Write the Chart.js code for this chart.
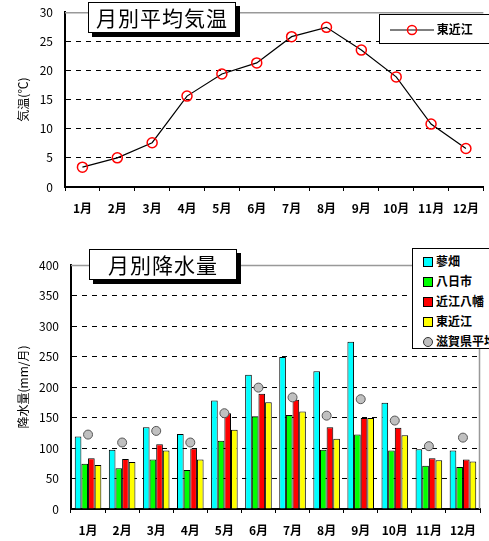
<!DOCTYPE html>
<html>
<head>
<meta charset="utf-8">
<script src="https://cdn.jsdelivr.net/npm/chart.js@4.4.1/dist/chart.umd.min.js"></script>
<style>
  html, body { margin: 0; padding: 0; background: #fff; width: 489px; height: 541px; overflow: hidden; }
  body { position: relative; font-family: "Noto Sans CJK JP", sans-serif; }
  #c1wrap { position: absolute; left: 0; top: -7px; width: 489px; height: 227px; }
  #c2wrap { position: absolute; left: 0; top: 220px; width: 489px; height: 321px; }
  .ttl { position: absolute; background: #fff; border: 1px solid #000; box-shadow: 4px 4px 0 #000;
         font-size: 21px; line-height: 28px; text-align: center; color: #000; letter-spacing: 1px; }
  .lg { position: absolute; background: #fff; border: 1px solid #000; font-size: 12px; color: #000; font-weight: bold; }
  .lg .row { position: absolute; left: 0; white-space: nowrap; height: 16px; line-height: 16px; }
  .sw { display: inline-block; width: 8px; height: 8px; border: 1px solid #000; vertical-align: middle; margin-right: 3px; position: relative; top: -1px; }
  .dot { display: inline-block; width: 8px; height: 8px; border: 1px solid #333; border-radius: 50%; background: #c0c0c0; vertical-align: middle; margin-right: 3px; position: relative; top: -1px; }
</style>
</head>
<body>
<div id="c1wrap"><canvas id="c1"></canvas></div>
<div id="c2wrap"><canvas id="c2"></canvas></div>
<div class="ttl" style="left:88px; top:2px; width:146px; height:29px;">月別平均気温</div>
<div class="ttl" style="left:89px; top:249px; width:146px; height:29px;">月別降水量</div>
<div class="lg" id="lg1" style="left:379px; top:14px; width:112px; height:28px;"></div>
<div class="lg" id="lg2" style="left:412px; top:248px; width:90px; height:99px;"></div>
<script>
// ---- data ----
const months = ["1月","2月","3月","4月","5月","6月","7月","8月","9月","10月","11月","12月"];
const tempLabel = "東近江";
const tempValues = [3.4, 5.0, 7.6, 15.6, 19.4, 21.3, 25.8, 27.4, 23.5, 18.9, 10.8, 6.6];
const tempTicks = [0, 5, 10, 15, 20, 25, 30];

const rainLabels = ["蓼畑", "八日市", "近江八幡", "東近江", "滋賀県平均"];
const rainTadehata = [119, 97, 134, 123, 178, 220, 249, 226, 274, 174, 98, 96];
const rainYokaichi = [74, 67, 81, 64, 112, 152, 154, 97, 122, 96, 71, 69];
const rainOmihachiman = [83, 82, 106, 99, 157, 189, 179, 134, 149, 133, 83, 81];
const rainHigashiomi = [72, 77, 96, 81, 130, 175, 160, 115, 149, 121, 80, 78];
const rainShigaAvg = [122, 109, 128, 109, 157, 199, 183, 153, 180, 145, 103, 117];
const rainTicks = [0, 50, 100, 150, 200, 250, 300, 350, 400];

const rainColors = ["#00FFFF", "#00FF00", "#FF0000", "#FFFF00"];

// ---- common ----
const tickFont = { family: "'Noto Sans CJK JP', sans-serif", size: 12 };
const frame = (rightLine) => ({
  id: 'frame' + (rightLine ? 'R' : ''),
  beforeDatasetsDraw(chart) {
    const a = chart.chartArea, ctx = chart.ctx;
    ctx.save();
    ctx.strokeStyle = '#999'; ctx.lineWidth = 1.5;
    ctx.beginPath();
    ctx.moveTo(a.left, a.top + 0.5); ctx.lineTo(a.right, a.top + 0.5);
    if (rightLine) { ctx.moveTo(a.right - 0.5, a.top); ctx.lineTo(a.right - 0.5, a.bottom); }
    ctx.stroke();
    ctx.restore();
  }
});

function yScale(min, max, step, ticksArr, title, width, titlePad) {
  return {
    min, max,
    afterBuildTicks(s) { s.ticks = ticksArr.map(v => ({ value: v })); },
    afterFit(s) { s.width = width; },
    ticks: { font: tickFont, color: '#000', padding: 12, stepSize: step },
    grid: {
      drawTicks: false,
      color: (c) => (c.tick && (c.tick.value === min || c.tick.value === max)) ? 'rgba(0,0,0,0)' : '#000',
      lineWidth: 1
    },
    border: { display: true, color: '#000', width: 2, dash: [5, 5] },
    title: { display: true, text: title, font: { family: "'Noto Sans CJK JP', sans-serif", size: 12 }, color: '#000', padding: { top: titlePad, bottom: 0 } }
  };
}
function xScale(height) {
  return {
    offset: true,
    afterFit(s) { s.height = height; },
    ticks: { font: { family: "'Noto Sans CJK JP', sans-serif", size: 12, weight: 'bold' }, color: '#000', padding: 10, maxRotation: 0, autoSkip: false },
    grid: { offset: true, drawOnChartArea: false, drawTicks: true, tickLength: 4, color: '#000', lineWidth: 1 },
    border: { display: true, color: '#000', width: 2 }
  };
}

// ---- chart 1 ----
new Chart(document.getElementById('c1'), {
  type: 'line',
  data: {
    labels: months,
    datasets: [{
      label: tempLabel,
      data: tempValues,
      borderColor: '#000', borderWidth: 1.2,
      pointStyle: 'circle', pointRadius: 5, pointBorderColor: '#FF0000', pointBorderWidth: 1.5,
      pointBackgroundColor: 'rgba(255,255,255,0)', tension: 0
    }]
  },
  options: {
    responsive: true, maintainAspectRatio: false, animation: false,
    layout: { autoPadding: false, padding: { top: 5, right: 0, left: 0, bottom: 0 } },
    plugins: { legend: { display: false }, tooltip: { enabled: false } },
    scales: { x: xScale(33), y: yScale(0, 30, 5, tempTicks, '気温(℃)', 65, 16) }
  },
  plugins: [frame(false)]
});

// ---- chart 2 ----
const barSets = [rainTadehata, rainYokaichi, rainOmihachiman, rainHigashiomi].map((d, i) => ({
  type: 'bar', label: rainLabels[i], data: d, backgroundColor: rainColors[i],
  borderColor: '#000', borderWidth: 1, order: 2,
  categoryPercentage: 0.78, barPercentage: 1.0
}));
new Chart(document.getElementById('c2'), {
  type: 'bar',
  data: {
    labels: months,
    datasets: [...barSets, {
      type: 'line', label: rainLabels[4], data: rainShigaAvg, showLine: false,
      pointRadius: 4.5, pointBackgroundColor: '#C0C0C0', pointBorderColor: '#555', pointBorderWidth: 1, order: 1
    }]
  },
  options: {
    responsive: true, maintainAspectRatio: false, animation: false,
    layout: { autoPadding: false, padding: { top: 45, right: 9, left: 0, bottom: 0 } },
    plugins: { legend: { display: false }, tooltip: { enabled: false } },
    scales: { x: xScale(32), y: yScale(0, 400, 50, rainTicks, '降水量(mm/月)', 71, 16) }
  },
  plugins: [frame(true)]
});

// ---- legends (HTML, built from data labels) ----
(function () {
  const lg1 = document.getElementById('lg1');
  const r = document.createElement('div');
  r.className = 'row';
  r.style.top = '6px'; r.style.left = '10px';
  r.innerHTML = '<svg width="44" height="12" style="vertical-align:middle;position:relative;top:-1px"><line x1="0" y1="6" x2="44" y2="6" stroke="#000" stroke-width="1.2"/><circle cx="22" cy="6" r="4.5" fill="none" stroke="#f00" stroke-width="1.5"/></svg> ' + tempLabel;
  lg1.appendChild(r);

  const lg2 = document.getElementById('lg2');
  rainLabels.forEach((lab, i) => {
    const row = document.createElement('div');
    row.className = 'row';
    row.style.top = (4 + i * 20) + 'px';
    row.style.left = '10px';
    row.innerHTML = (i < 4 ? '<span class="sw" style="background:' + rainColors[i] + '"></span>' : '<span class="dot"></span>') + lab;
    lg2.appendChild(row);
  });
})();
</script>
</body>
</html>
